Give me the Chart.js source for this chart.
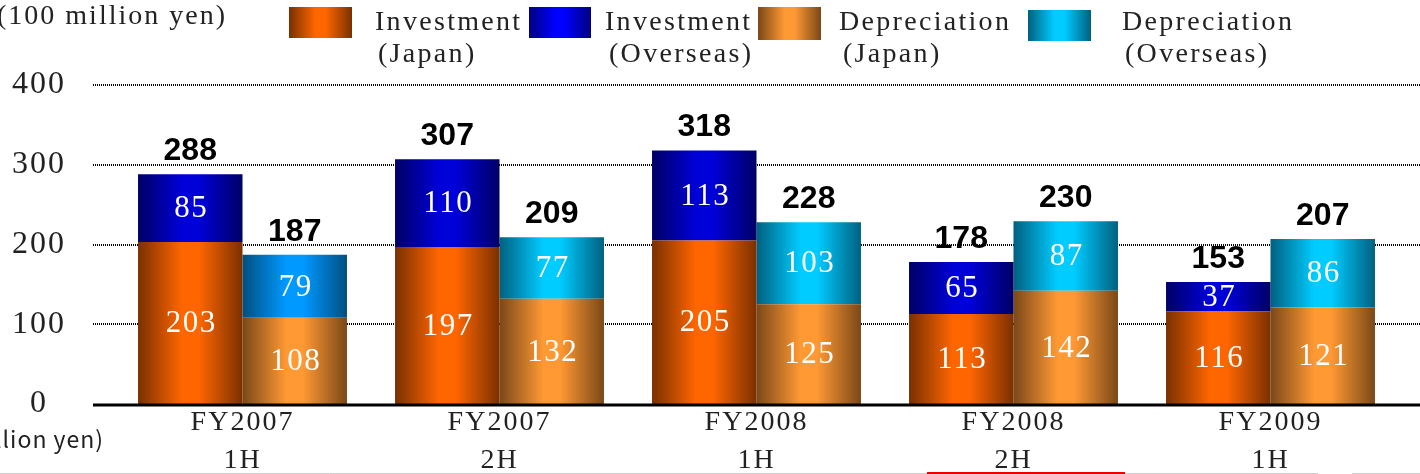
<!DOCTYPE html>
<html><head><meta charset="utf-8">
<script src="https://cdn.jsdelivr.net/npm/chart.js@4.4.1/dist/chart.umd.min.js"></script>
<style>html,body{margin:0;padding:0;background:#fff;}#wrap{width:1420px;height:474px;position:relative;}</style>
</head><body><div id="wrap"><canvas id="c"></canvas></div>
<script>
// ---- data ----
const categories = [['FY2007','1H'],['FY2007','2H'],['FY2008','1H'],['FY2008','2H'],['FY2009','1H']];
const investmentJapan = [203,197,205,113,116];
const investmentOverseas = [85,110,113,65,37];
const depreciationJapan = [108,132,125,142,121];
const depreciationOverseas = [79,77,103,87,86];
const investmentTotals = [288,307,318,178,153];
const depreciationTotals = [187,209,228,230,207];
const yTickValues = [0,100,200,300,400];
const unitLabel = '(100 million yen)';
const seriesLabels = [['Investment','(Japan)'],['Investment','(Overseas)'],['Depreciation','(Japan)'],['Depreciation','(Overseas)']];

// ---- styles ----
const CAT_PCT = 0.813;
const SERIF = '"Liberation Serif", "Times New Roman", serif';
const SANS = '"Liberation Sans", Arial, sans-serif';
const palInvJ = {edge:'#7a3000', mid:'#ff6600'};
const palInvO = {edge:'#000066', mid:'#0000d8'};
const palDepJ = {edge:'#7a4818', mid:'#ff9933'};
const palDepO = {edge:'#006080', mid:'#00ccff'};
const palDepOFirst = {edge:'#004f80', mid:'#0099ff'};
const palettes = [
  [palInvJ,palInvJ,palInvJ,palInvJ,palInvJ],
  [palInvO,palInvO,palInvO,palInvO,palInvO],
  [palDepJ,palDepJ,palDepJ,palDepJ,palDepJ],
  [palDepOFirst,palDepO,palDepO,palDepO,palDepO]
];
const legendBoxes = [
  {x:289,y:7,w:63,h:31,tx1:375,tx2:378,pal:palInvJ},
  {x:529,y:7,w:62,h:31,tx1:605,tx2:609,pal:{edge:'#000080',mid:'#0000ff'}},
  {x:758,y:7,w:63,h:33,tx1:839,tx2:843,pal:palDepJ},
  {x:1028,y:10,w:63,h:31,tx1:1122,tx2:1125,pal:palDepO}
];

function grad(ctx, left, w, p){
  const g = ctx.createLinearGradient(left,0,left+w,0);
  g.addColorStop(0,p.edge);
  g.addColorStop(0.42,p.mid);
  g.addColorStop(0.58,p.mid);
  g.addColorStop(1,p.edge);
  return g;
}
function makeBg(dsIdx){
  return (ctx) => {
    const chart = ctx.chart; const xs = chart.scales && chart.scales.x;
    const p = palettes[dsIdx][ctx.dataIndex] || palettes[dsIdx][0];
    if (!xs || !chart.chartArea || ctx.type !== 'data') return p.mid;
    const c = xs.getPixelForValue(ctx.dataIndex);
    const catW = xs.width / categories.length;
    const w = catW*CAT_PCT/2;
    const left = dsIdx < 2 ? c - w : c;
    return grad(chart.ctx, left, w, p);
  };
}

const deco = {
  id:'deco',
  beforeLayout(chart){ chart.ctx.letterSpacing = '2px'; },
  beforeDraw(chart){ chart.ctx.letterSpacing = '2px'; },
  beforeDatasetsDraw(chart){
    const ctx = chart.ctx, y = chart.scales.y;
    ctx.save();
    ctx.strokeStyle = '#000'; ctx.lineWidth = 2; ctx.setLineDash([1,1]);
    yTickValues.forEach(v => {
      if (v === 0) return;
      const py = Math.round(y.getPixelForValue(v));
      ctx.beginPath(); ctx.moveTo(93,py); ctx.lineTo(1420,py); ctx.stroke();
    });
    ctx.restore();
  },
  afterDatasetsDraw(chart){
    const ctx = chart.ctx, y = chart.scales.y;
    ctx.save();
    const y0 = y.getPixelForValue(0);
    ctx.strokeStyle = '#000'; ctx.lineWidth = 3;
    ctx.beginPath(); ctx.moveTo(93,y0+1); ctx.lineTo(1420,y0+1); ctx.stroke();
    ctx.letterSpacing = '1.5px';
    ctx.fillStyle = '#fff'; ctx.textAlign = 'center'; ctx.textBaseline = 'middle';
    ctx.font = '31px ' + SERIF;
    chart.data.datasets.forEach((ds, di) => {
      const meta = chart.getDatasetMeta(di);
      meta.data.forEach((el, i) => {
        const mid = (el.y + el.base)/2;
        ctx.fillText(String(ds.data[i]), el.x + 1, mid + 1);
      });
    });
    ctx.letterSpacing = '0px';
    ctx.fillStyle = '#000'; ctx.textBaseline = 'alphabetic';
    ctx.font = 'bold 32px ' + SANS;
    const mInv = chart.getDatasetMeta(1), mDep = chart.getDatasetMeta(3);
    mInv.data.forEach((el,i) => ctx.fillText(String(investmentTotals[i]), el.x, el.y - 14));
    mDep.data.forEach((el,i) => ctx.fillText(String(depreciationTotals[i]), el.x, el.y - 14));
    ctx.restore();
  },
  afterDraw(chart){
    const ctx = chart.ctx;
    ctx.save();
    ctx.letterSpacing = '2.3px';
    ctx.font = '28px ' + SERIF; ctx.textAlign = 'left'; ctx.textBaseline = 'alphabetic';
    legendBoxes.forEach((b, i) => {
      ctx.fillStyle = grad(ctx, b.x, b.w, b.pal);
      ctx.fillRect(b.x, b.y, b.w, b.h);
      ctx.fillStyle = '#222';
      ctx.fillText(chart.data.datasets[i].label[0], b.tx1, 30);
      ctx.fillText(chart.data.datasets[i].label[1], b.tx2, 62);
    });
    ctx.letterSpacing = '2px';
    ctx.fillText(unitLabel, -3, 24);
    ctx.letterSpacing = '1px';
    ctx.font = '23px "Noto Sans CJK JP", "Noto Sans", sans-serif';
    ctx.textAlign = 'right';
    ctx.fillText(unitLabel, 104, 448);
    ctx.lineWidth = 1; ctx.strokeStyle = '#cfcfcf';
    ctx.beginPath(); ctx.moveTo(0,473.5); ctx.lineTo(1318,473.5); ctx.moveTo(1352,473.5); ctx.lineTo(1420,473.5); ctx.stroke();
    ctx.lineWidth = 2; ctx.strokeStyle = '#ee0000';
    ctx.beginPath(); ctx.moveTo(927,473); ctx.lineTo(1125,473); ctx.stroke();
    ctx.restore();
  }
};

const chart = new Chart(document.getElementById('c'), {
  type: 'bar',
  data: {
    labels: categories,
    datasets: [
      {label: seriesLabels[0], data: investmentJapan, stack:'inv', backgroundColor: makeBg(0)},
      {label: seriesLabels[1], data: investmentOverseas, stack:'inv', backgroundColor: makeBg(1)},
      {label: seriesLabels[2], data: depreciationJapan, stack:'dep', backgroundColor: makeBg(2)},
      {label: seriesLabels[3], data: depreciationOverseas, stack:'dep', backgroundColor: makeBg(3)}
    ]
  },
  options: {
    responsive: true, maintainAspectRatio: false, animation: false,
    barPercentage: 1, categoryPercentage: CAT_PCT,
    layout: {padding: {top:85, right:21, left:0, bottom:0}},
    plugins: {legend:{display:false}, tooltip:{enabled:false}},
    scales: {
      x: {
        stacked: true,
        grid: {display:false}, border: {display:false},
        ticks: {color:'#222', font:{family:SERIF, size:28, lineHeight:1.36}, padding:-8, maxRotation:0, autoSkip:false},
        afterFit(s){ s.height = 70; }
      },
      y: {
        stacked: true, min: 0, max: 400,
        grid: {display:false, drawTicks:false}, border: {display:false},
        afterBuildTicks(s){ s.ticks = yTickValues.map(v => ({value:v})); },
        ticks: {color:'#222', font:{family:SERIF, size:32}, padding:48, crossAlign:'center'},
        afterFit(s){ s.width = 114; }
      }
    }
  },
  plugins: [deco]
});
</script>
</body></html>
